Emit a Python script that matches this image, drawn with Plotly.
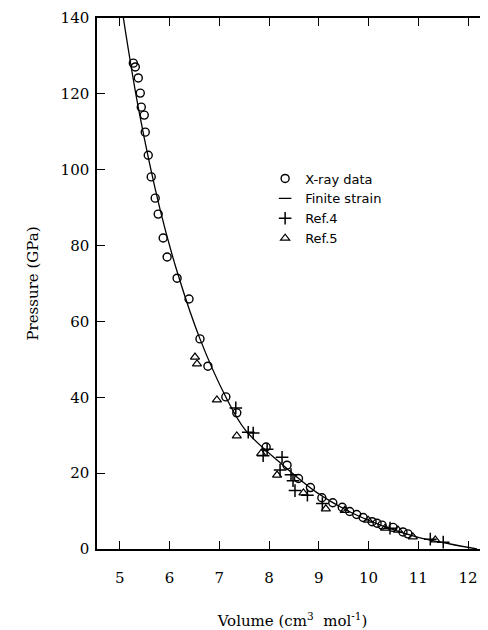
import plotly.graph_objects as go

# X-ray data (open circles)
xray_v = [5.27, 5.31, 5.37, 5.41, 5.43, 5.49, 5.51, 5.57, 5.63, 5.71,
          5.77, 5.87, 5.95, 6.15, 6.39, 6.61, 6.77, 7.13, 7.35, 7.94,
          8.36, 8.59, 8.83, 9.06, 9.28, 9.47, 9.62, 9.76, 9.89, 10.07,
          10.17, 10.27, 10.49, 10.69, 10.79]
xray_p = [128.1, 127.1, 124.2, 120.2, 116.5, 114.4, 109.9, 103.8, 98.1, 92.5,
          88.3, 82.0, 77.0, 71.4, 65.9, 55.4, 48.2, 40.1, 35.9, 26.9,
          22.1, 18.6, 16.2, 13.5, 12.2, 11.0, 9.9, 9.1, 8.3, 7.2,
          6.8, 6.3, 5.7, 4.5, 4.0]

# Finite strain curve
curve_v = [5.07, 5.38, 5.81, 6.17, 6.61, 7.14, 7.52, 8.28, 8.97, 9.63, 10.29, 10.98, 11.64, 12.18]
curve_p = [140.0, 115.7, 89.4, 72.3, 55.4, 39.8, 31.4, 22.1, 14.8, 9.75, 6.06, 3.16, 1.32, 0.0]

# Ref.4 (plus)
ref4_v = [7.33, 7.58, 7.68, 7.96, 7.88, 8.26, 8.22, 8.44, 8.48, 8.52, 8.77, 9.07, 10.43, 11.24, 11.50]
ref4_p = [37.2, 30.8, 30.6, 26.3, 24.6, 24.2, 20.8, 19.6, 18.0, 15.4, 14.2, 12.0, 5.5, 2.6, 1.8]

# Ref.5 (triangles)
ref5_v = [6.51, 6.55, 6.95, 7.35, 7.84, 8.16, 8.69, 9.14, 9.52, 9.99, 10.33, 10.59, 10.89, 11.34]
ref5_p = [50.6, 48.8, 39.3, 29.8, 25.2, 19.5, 14.8, 10.6, 10.2, 7.6, 5.5, 5.0, 3.2, 2.4]

x_ticks = [5, 6, 7, 8, 9, 10, 11, 12]
y_ticks = [0, 20, 40, 60, 80, 100, 120, 140]

fig = go.Figure()
fig.add_trace(go.Scatter(x=xray_v, y=xray_p, mode="markers", name="X-ray data",
                         marker=dict(symbol="circle-open", size=8, color="black",
                                     line=dict(width=1.4, color="black"))))
fig.add_trace(go.Scatter(x=curve_v, y=curve_p, mode="lines", name="Finite strain",
                         showlegend=False,
                         line=dict(color="black", width=1.3, shape="spline", smoothing=1)))
fig.add_trace(go.Scatter(x=[None], y=[None], mode="markers", name="Finite strain",
                         marker=dict(symbol="line-ew-open", size=9, color="black",
                                     line=dict(width=1.4, color="black"))))
fig.add_trace(go.Scatter(x=ref4_v, y=ref4_p, mode="markers", name="Ref.4",
                         marker=dict(symbol="cross-thin-open", size=9, color="black",
                                     line=dict(width=1.5, color="black"))))
fig.add_trace(go.Scatter(x=ref5_v, y=ref5_p, mode="markers", name="Ref.5",
                         marker=dict(symbol="triangle-up-open", size=8, color="black",
                                     line=dict(width=1.2, color="black"))))

axis_common = dict(showline=True, linecolor="black", linewidth=1.5, mirror="ticks",
                   ticks="inside", ticklen=8, tickwidth=1.3, tickcolor="black",
                   showgrid=False, zeroline=False, automargin=False,
                   tickfont=dict(family="DejaVu Serif", size=15, color="black"))

fig.update_xaxes(range=[4.54, 12.40], tickvals=x_ticks, ticklabelstandoff=14,
                 title=dict(text="Volume (cm<sup>3</sup>  mol<sup>-1</sup>)",
                            font=dict(family="DejaVu Serif", size=15, color="black"),
                            standoff=32),
                 **axis_common)
fig.update_yaxes(range=[0, 140], tickvals=y_ticks, ticklabelstandoff=3,
                 title=dict(text="Pressure (GPa)",
                            font=dict(family="DejaVu Serif", size=15, color="black"),
                            standoff=18),
                 **axis_common)

# The page body has an 8 px margin, so the figure is sized to fit the window.
fig.update_layout(
    width=480, height=622,
    margin=dict(l=89, r=0, t=10, b=81),
    paper_bgcolor="white", plot_bgcolor="white",
    showlegend=True,
    legend=dict(x=0.43, y=0.726, xanchor="left", yanchor="top",
                font=dict(family="DejaVu Sans", size=13, color="black"),
                bgcolor="rgba(0,0,0,0)", itemwidth=30, tracegroupgap=0),
)

fig.write_html("out.html")
